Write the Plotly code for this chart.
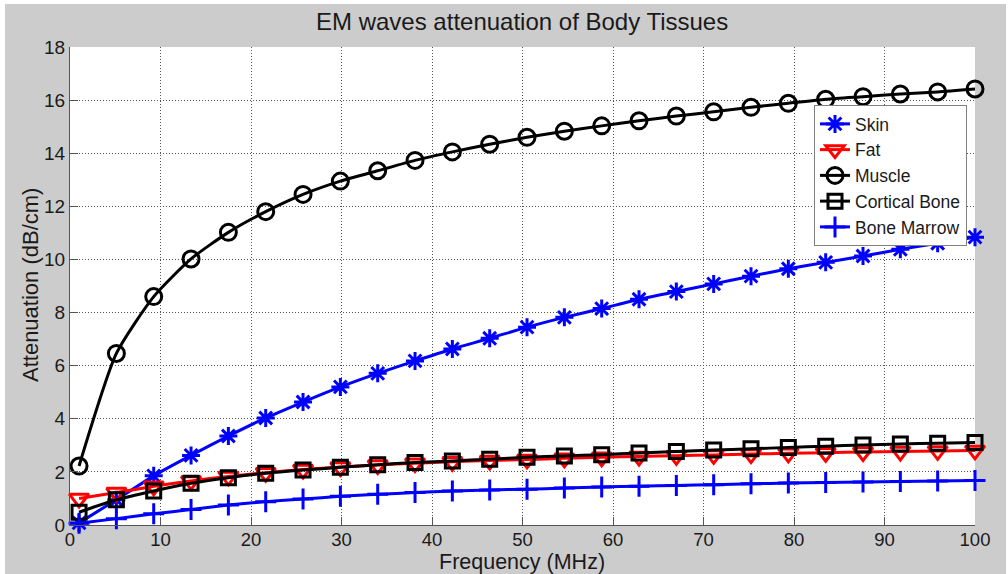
import plotly.graph_objects as go

freq = [1, 5.125, 9.25, 13.375, 17.5, 21.625, 25.75, 29.875, 34, 38.125, 42.25, 46.375,
        50.5, 54.625, 58.75, 62.875, 67, 71.125, 75.25, 79.375, 83.5, 87.625, 91.75, 95.875, 100]

skin = [0.08, 0.95, 1.85, 2.62, 3.35, 4.03, 4.63, 5.2, 5.71, 6.18, 6.63, 7.03,
        7.45, 7.82, 8.15, 8.5, 8.79, 9.08, 9.37, 9.65, 9.89, 10.13, 10.38, 10.61, 10.84]
fat = [1.0, 1.22, 1.46, 1.66, 1.83, 1.97, 2.09, 2.18, 2.26, 2.33, 2.38, 2.43,
       2.47, 2.51, 2.55, 2.58, 2.61, 2.64, 2.67, 2.7, 2.72, 2.75, 2.77, 2.79, 2.81]
muscle = [2.22, 6.46, 8.6, 10.02, 11.02, 11.8, 12.45, 12.95, 13.34, 13.73, 14.05, 14.34,
          14.6, 14.83, 15.03, 15.22, 15.4, 15.56, 15.73, 15.88, 16.03, 16.13, 16.23, 16.31, 16.42]
cortical = [0.48, 0.95, 1.28, 1.57, 1.78, 1.95, 2.07, 2.17, 2.27, 2.35, 2.41, 2.48,
            2.55, 2.6, 2.65, 2.71, 2.77, 2.82, 2.87, 2.92, 2.97, 3.01, 3.05, 3.08, 3.11]
marrow = [0.07, 0.24, 0.42, 0.58, 0.75, 0.88, 0.98, 1.08, 1.16, 1.22, 1.28, 1.32,
          1.35, 1.39, 1.43, 1.46, 1.49, 1.52, 1.55, 1.58, 1.6, 1.62, 1.64, 1.66, 1.68]

x_ticks = list(range(0, 101, 10))
y_ticks = list(range(0, 19, 2))

series = [
    ("Skin", skin, "#0000ff", "asterisk-open", 15),
    ("Fat", fat, "#ff0000", "triangle-down-open", 17),
    ("Muscle", muscle, "#000000", "circle-open", 16),
    ("Cortical Bone", cortical, "#000000", "square-open", 14),
    ("Bone Marrow", marrow, "#0000ff", "cross-thin-open", 15),
]

fig = go.Figure()
for name, vals, color, sym, size in series:
    fig.add_trace(go.Scatter(
        x=freq, y=vals, name=name, mode="lines+markers",
        line=dict(color=color, width=3, shape="spline", smoothing=0.6),
        marker=dict(symbol=sym, size=size, color=color, line=dict(color=color, width=3)),
        cliponaxis=False,
    ))

L, R, T, B = 70, 33, 47, 49
W, H = 1008, 574
pw, ph = W - L - R, H - T - B

def px_x(p):
    return (p - L) / pw

def px_y(p):
    return (H - B - p) / ph

shapes = [
    dict(type="rect", xref="paper", yref="paper", x0=px_x(0), x1=px_x(5), y0=px_y(H), y1=px_y(0),
         fillcolor="white", line=dict(width=0), layer="below"),
    dict(type="rect", xref="paper", yref="paper", x0=px_x(0), x1=px_x(W), y0=px_y(4), y1=px_y(0),
         fillcolor="white", line=dict(width=0), layer="below"),
    dict(type="rect", xref="paper", yref="paper", x0=px_x(1006), x1=px_x(W), y0=px_y(H), y1=px_y(0),
         fillcolor="white", line=dict(width=0), layer="below"),
]

text_color = "#1a1a1a"
annotations = [
    dict(text="EM waves attenuation of Body Tissues", xref="paper", yref="paper",
         x=px_x(522), y=px_y(22), xanchor="center", yanchor="middle", showarrow=False,
         font=dict(size=24, color=text_color)),
    dict(text="Frequency (MHz)", xref="paper", yref="paper",
         x=px_x(522), y=px_y(562), xanchor="center", yanchor="middle", showarrow=False,
         font=dict(size=21.5, color=text_color)),
    dict(text="Attenuation (dB/cm)", xref="paper", yref="paper", textangle=-90,
         x=px_x(30), y=px_y(285), xanchor="center", yanchor="middle", showarrow=False,
         font=dict(size=22, color=text_color)),
]

font_family = "Liberation Sans, Arial, sans-serif"

fig.update_layout(
    width=W, height=H,
    margin=dict(l=L, r=R, t=T, b=B, autoexpand=False),
    paper_bgcolor="#cccccc",
    plot_bgcolor="white",
    font=dict(family=font_family, size=19, color=text_color),
    showlegend=True,
    legend=dict(x=px_x(814), y=px_y(105), xanchor="left", yanchor="top",
                bgcolor="white", bordercolor="#808080", borderwidth=1,
                font=dict(size=17.5, color=text_color), tracegroupgap=0,
                itemwidth=30),
    shapes=shapes,
    annotations=annotations,
)

fig.update_xaxes(
    range=[0, 100], tickvals=x_ticks, ticktext=[str(v) for v in x_ticks],
    showgrid=True, gridcolor="#555555", griddash="1px,2px", gridwidth=1,
    showline=True, linecolor="#555555", linewidth=1, mirror=False,
    ticks="inside", ticklen=8, tickcolor="#555555", ticklabelstandoff=-2,
    zeroline=False, tickfont=dict(size=18.5), automargin=False,
)
fig.update_yaxes(
    range=[0, 18], tickvals=y_ticks, ticktext=[str(v) for v in y_ticks],
    showgrid=True, gridcolor="#555555", griddash="1px,2px", gridwidth=1,
    showline=True, linecolor="#555555", linewidth=1, mirror=False,
    ticks="inside", ticklen=8, tickcolor="#555555",
    zeroline=False, tickfont=dict(size=19), automargin=False,
)

fig.write_html("out.html", config={"displayModeBar": False},
               post_script="document.body.style.margin='0px';document.body.style.overflow='hidden';")
